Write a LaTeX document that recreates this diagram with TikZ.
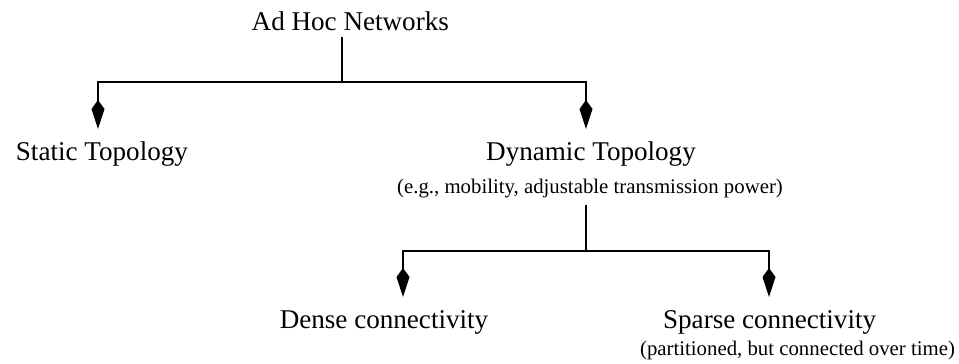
\documentclass[tikz,border=0pt]{standalone}
\usepackage{fontspec}
\setmainfont{Liberation Serif}
\usetikzlibrary{arrows.meta}
\begin{document}
\begin{tikzpicture}[x=1pt,y=-1pt,
  label/.style={inner sep=0pt, anchor=base, font=\fontsize{27.1}{32}\selectfont},
  note/.style={inner sep=0pt, anchor=base, font=\fontsize{20.8}{25}\selectfont},
  link/.style={line width=1.8pt},
  branch/.style={link, -{Kite[length=29pt,width=13pt,inset=9pt]}}]
\useasboundingbox (0,0) rectangle (959,364);

% taxonomy labels
\node[label] (root) at (350.3,30.7) {Ad Hoc Networks};
\node[label] (static) at (101.9,160) {Static Topology};
\node[label] (dyn) at (591,160) {Dynamic Topology};
\node[note] (dynnote) at (590,193) {(e.g., mobility, adjustable transmission power)};
\node[label] (dense) at (384,328) {Dense connectivity};
\node[label] (sparse) at (769.6,328) {Sparse connectivity};
\node[note] (sparsenote) at (797.5,355) {(partitioned, but connected over time)};

% junctions of the two branchings and the arrow tips
\coordinate (j0) at (341.7,82);
\coordinate (j1) at (586,251);
\coordinate (tstatic) at (98,129);
\coordinate (tdyn) at (586,129);
\coordinate (tdense) at (403,297);
\coordinate (tsparse) at (769,297);

% first level
\draw[link] ([yshift=-6.3pt]root.south -| j0) -- (j0);
\draw[branch] (j0) -| (tstatic);
\draw[branch] (j0) -| (tdyn);

% second level
\draw[link] ([yshift=-7pt]dynnote.south -| j1) -- (j1);
\draw[branch] (j1) -| (tdense);
\draw[branch] (j1) -| (tsparse);
\end{tikzpicture}
\end{document}
